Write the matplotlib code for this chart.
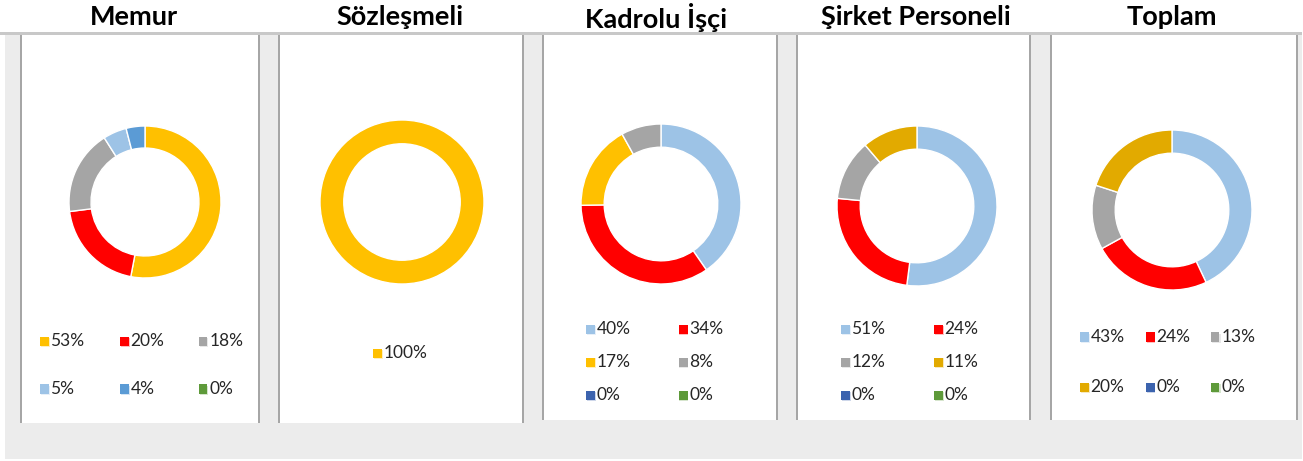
import matplotlib
matplotlib.use("Agg")
import matplotlib.pyplot as plt
from matplotlib.patches import Rectangle

# ---------------- data ----------------
titles = ["Memur", "Sözleşmeli", "Kadrolu İşçi", "Şirket Personeli", "Toplam"]

memur_vals = [53, 20, 18, 5, 4, 0]
memur_cols = ["#FFC000", "#FF0000", "#A5A5A5", "#9DC3E6", "#5B9BD5", "#5E9A3A"]

sozlesmeli_vals = [100]
sozlesmeli_cols = ["#FFC000"]

kadrolu_vals = [40, 34, 17, 8, 0, 0]
kadrolu_cols = ["#9DC3E6", "#FF0000", "#FFC000", "#A5A5A5", "#3C63AE", "#5E9A3A"]

sirket_vals = [51, 24, 12, 11, 0, 0]
sirket_cols = ["#9DC3E6", "#FF0000", "#A5A5A5", "#E2AA00", "#3C63AE", "#5E9A3A"]

toplam_vals = [43, 24, 13, 20, 0, 0]
toplam_cols = ["#9DC3E6", "#FF0000", "#A5A5A5", "#E2AA00", "#3C63AE", "#5E9A3A"]

all_vals = [memur_vals, sozlesmeli_vals, kadrolu_vals, sirket_vals, toplam_vals]
all_cols = [memur_cols, sozlesmeli_cols, kadrolu_cols, sirket_cols, toplam_cols]

# ---------------- layout (pixels) ----------------
W, H = 1303, 461
FONT = "Lato"

fig = plt.figure(figsize=(W / 100, H / 100), dpi=100)
fig.patch.set_facecolor("white")


def fx(x):
    return x / W


def fy(y):
    return 1 - y / H


def rect_px(x0, y0, x1, y1, **kw):
    fig.patches.append(Rectangle((fx(x0), fy(y1)), fx(x1) - fx(x0), fy(y0) - fy(y1),
                                 transform=fig.transFigure, **kw))


# gray background area
rect_px(5, 34, 1302, 459, facecolor="#ECECEC", edgecolor="none", zorder=0)

# panels: (left, right, bottom)
panels = [(21, 259, 423), (279, 523, 423), (543, 777, 420), (797, 1030, 420), (1051, 1297, 420)]
for (l, r, b) in panels:
    rect_px(l, 34, r, b, facecolor="white", edgecolor="none", zorder=1)
    rect_px(l - 1, 34, l + 1, b, facecolor="#A6A6A6", edgecolor="none", zorder=2)
    rect_px(r - 1, 34, r + 1, b, facecolor="#A6A6A6", edgecolor="none", zorder=2)

# top horizontal line
rect_px(0, 32.5, 1302, 35, facecolor="#C8C8C8", edgecolor="none", zorder=3)

# titles
title_x = [134, 400, 656, 916, 1172]
for t, x in zip(titles, title_x):
    fig.text(fx(x), fy(17), t, ha="center", va="center", fontsize=19.5,
             fontweight="bold", family=FONT, color="black")

# donuts: center (px) and outer radius (px)
donut_geom = [(145, 202, 76), (402, 202, 82), (661, 204, 80), (917, 206, 80), (1172, 210, 80)]
for vals, cols, (cx, cy, r) in zip(all_vals, all_cols, donut_geom):
    ax = fig.add_axes([fx(cx - r), fy(cy + r), fx(2 * r), (2 * r) / H])
    ax.set_zorder(10)
    ax.patch.set_visible(False)
    v = [a for a in vals if a > 0]
    c = [col for a, col in zip(vals, cols) if a > 0]
    ax.pie(v, colors=c, startangle=90, counterclock=False, radius=1,
           wedgeprops=dict(width=0.29, edgecolor="white", linewidth=1.0))
    ax.set_xlim(-1, 1)
    ax.set_ylim(-1, 1)
    ax.set_aspect("equal")
    ax.axis("off")

# legends: per chart, list of (marker_x, row_y) positions for entries in order
legend_pos = [
    [(44, 341), (124, 341), (203, 341), (44, 389), (124, 389), (203, 389)],
    [(377, 353)],
    [(590, 329), (683, 329), (590, 362), (683, 362), (590, 395), (683, 395)],
    [(845, 329), (938, 329), (845, 362), (938, 362), (845, 395), (938, 395)],
    [(1084, 337), (1150, 337), (1215, 337), (1084, 387), (1150, 387), (1215, 387)],
]
S = 9
for vals, cols, pos in zip(all_vals, all_cols, legend_pos):
    for v, c, (mx, my) in zip(vals, cols, pos):
        rect_px(mx - S / 2 + 1, my - S / 2 + 1, mx + S / 2 + 1, my + S / 2 + 1,
                facecolor=c, alpha=0.25, edgecolor="none", zorder=4)
        rect_px(mx - S / 2, my - S / 2, mx + S / 2, my + S / 2,
                facecolor=c, edgecolor="none", zorder=5)
        fig.text(fx(mx + S / 2 + 2), fy(my), f"{v}%", ha="left", va="center",
                 fontsize=12.5, family=FONT, color="#262626")

fig.savefig("out.png", dpi=100, facecolor="white")
